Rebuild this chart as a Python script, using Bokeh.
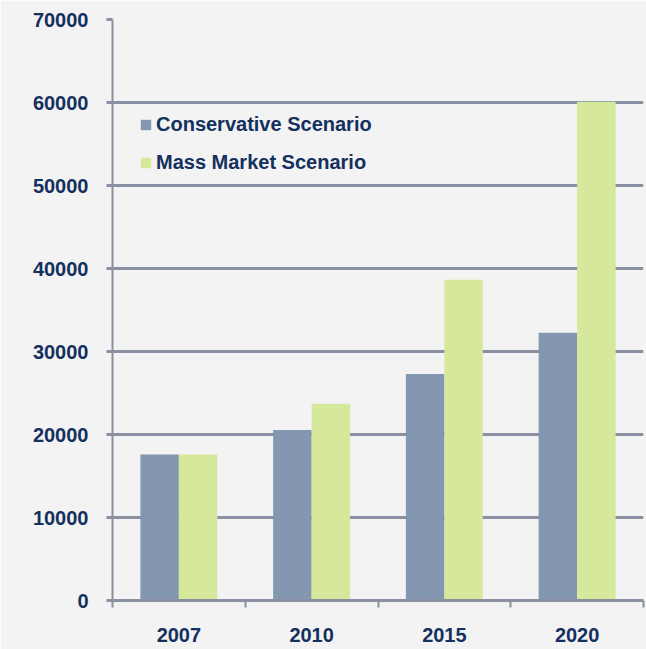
from bokeh.plotting import figure
from bokeh.models import ColumnDataSource, FixedTicker, Range1d, Legend, LegendItem
from bokeh.embed import file_html
from bokeh.resources import INLINE

years = ["2007", "2010", "2015", "2020"]
conservative = [17600, 20550, 27300, 32250]
mass_market = [17600, 23700, 38650, 60100]
y_ticks = [0, 10000, 20000, 30000, 40000, 50000, 60000, 70000]

idx = list(range(len(years)))
src = ColumnDataSource(dict(
    xc=[i + 0.5 - 0.145 for i in idx],
    xm=[i + 0.5 + 0.145 for i in idx],
    cons=conservative,
    mass=mass_market,
))

BG = "#F3F3F3"
GRID = "#8A90A2"
TXT = "#14305E"
FONT = "Liberation Sans"

p = figure(width=646, height=649, output_backend="svg", toolbar_location=None,
           x_range=Range1d(0, len(years)), y_range=Range1d(0, 70000),
           min_border_left=112, min_border_right=3, min_border_top=19, min_border_bottom=49)
p.background_fill_color = BG
p.border_fill_color = BG
p.outline_line_color = None

r1 = p.vbar(x="xc", top="cons", width=0.29, source=src, fill_color="#8397B0", line_color=None)
r2 = p.vbar(x="xm", top="mass", width=0.29, source=src, fill_color="#D6E89B", line_color=None)

# x axis
p.xaxis.ticker = FixedTicker(ticks=[i + 0.5 for i in idx], minor_ticks=list(range(len(years) + 1)))
p.xaxis.major_label_overrides = {i + 0.5: y for i, y in zip(idx, years)}
p.xaxis.major_tick_line_color = None
p.xaxis.minor_tick_line_color = GRID
p.xaxis.minor_tick_line_width = 2
p.xaxis.minor_tick_in = 0
p.xaxis.minor_tick_out = 7
p.xaxis.axis_line_color = GRID
p.xaxis.axis_line_width = 3
p.xaxis.major_label_standoff = 20
p.xaxis.major_label_text_font = FONT
p.xaxis.major_label_text_font_style = "bold"
p.xaxis.major_label_text_font_size = "20px"
p.xaxis.major_label_text_color = TXT

# y axis
p.yaxis.ticker = FixedTicker(ticks=y_ticks)
p.yaxis.axis_line_color = GRID
p.yaxis.axis_line_width = 2
p.yaxis.major_tick_line_color = GRID
p.yaxis.major_tick_line_width = 3
p.yaxis.major_tick_in = 0
p.yaxis.major_tick_out = 6
p.yaxis.minor_tick_line_color = None
p.yaxis.major_label_standoff = 18
p.yaxis.major_label_text_font = FONT
p.yaxis.major_label_text_font_style = "bold"
p.yaxis.major_label_text_font_size = "20px"
p.yaxis.major_label_text_color = TXT

p.xgrid.grid_line_color = None
p.ygrid.grid_line_color = GRID
p.ygrid.grid_line_width = 3

legend = Legend(items=[LegendItem(label="Conservative Scenario", renderers=[r1]),
                       LegendItem(label="Mass Market Scenario", renderers=[r2])],
                location=(27, 426))
legend.background_fill_alpha = 0
legend.border_line_color = None
legend.padding = 0
legend.margin = 0
legend.spacing = 15
legend.glyph_width = 13
legend.glyph_height = 13
legend.label_standoff = 4
legend.label_text_font = FONT
legend.label_text_font_style = "bold"
legend.label_text_font_size = "20px"
legend.label_text_color = TXT
p.add_layout(legend, "center")

open("out.html", "w").write(file_html(p, INLINE))
